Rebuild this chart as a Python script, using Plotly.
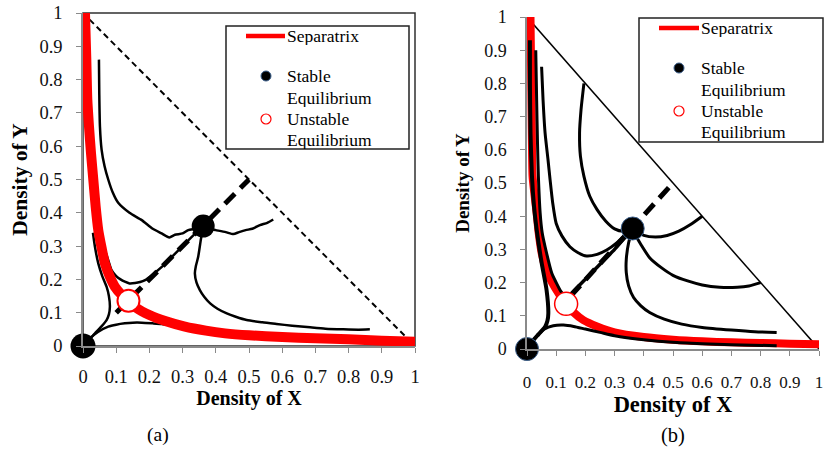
import plotly.graph_objects as go

W, H = 825, 451

# ---------------- data ----------------
tick_vals = [0, 0.1, 0.2, 0.3, 0.4, 0.5, 0.6, 0.7, 0.8, 0.9, 1.0]
tick_text = ["0", "0.1", "0.2", "0.3", "0.4", "0.5", "0.6", "0.7", "0.8", "0.9", "1"]

# Panel (a)
sep_a_x = [0.006, 0.01, 0.013, 0.018, 0.024, 0.031, 0.038, 0.046, 0.056, 0.066, 0.08, 0.096,
           0.115, 0.137, 0.16, 0.2, 0.25, 0.307, 0.37, 0.428, 0.5, 0.6, 0.7, 0.8, 0.9, 1.0]
sep_a_y = [1.0, 0.86, 0.74, 0.66, 0.58, 0.5, 0.42, 0.348, 0.295, 0.248, 0.21, 0.178,
           0.155, 0.136, 0.115, 0.093, 0.074, 0.058, 0.046, 0.038, 0.032, 0.027, 0.023, 0.02, 0.016, 0.013]

a_t1_x = [0.048, 0.049, 0.051, 0.056, 0.065, 0.076, 0.09, 0.106, 0.14, 0.177, 0.21, 0.237, 0.26,
          0.277, 0.3, 0.317, 0.34, 0.362]
a_t1_y = [0.86, 0.76, 0.66, 0.59, 0.54, 0.50, 0.46, 0.43, 0.40, 0.378, 0.352, 0.338, 0.326,
          0.334, 0.338, 0.348, 0.352, 0.36]

a_t2_x = [0.362, 0.38, 0.4, 0.43, 0.453, 0.47, 0.49, 0.51, 0.533, 0.555, 0.573]
a_t2_y = [0.36, 0.352, 0.348, 0.342, 0.336, 0.342, 0.348, 0.352, 0.363, 0.37, 0.38]

a_t3_x = [0.362, 0.355, 0.347, 0.34, 0.337, 0.342, 0.352, 0.365, 0.383, 0.405, 0.433, 0.46,
          0.493, 0.54, 0.583, 0.63, 0.684, 0.73, 0.784, 0.83, 0.864]
a_t3_y = [0.36, 0.32, 0.268, 0.24, 0.218, 0.19, 0.168, 0.148, 0.128, 0.112, 0.098, 0.088,
          0.078, 0.071, 0.066, 0.061, 0.056, 0.052, 0.05, 0.049, 0.05]

a_t4_x = [0.048, 0.052, 0.058, 0.066, 0.076, 0.086, 0.1, 0.113, 0.126, 0.14, 0.157, 0.172,
          0.187, 0.21, 0.24, 0.27, 0.3, 0.33, 0.362]
a_t4_y = [0.36, 0.335, 0.31, 0.288, 0.258, 0.228, 0.21, 0.2, 0.193, 0.188, 0.189, 0.192,
          0.198, 0.215, 0.24, 0.27, 0.3, 0.33, 0.36]

a_t5_x = [0.03, 0.036, 0.046, 0.058, 0.071, 0.078, 0.081, 0.078, 0.071, 0.055, 0.036, 0.018, 0.0]
a_t5_y = [0.34, 0.298, 0.248, 0.21, 0.178, 0.15, 0.118, 0.095, 0.078, 0.058, 0.038, 0.018, 0.0]

a_t6_x = [0.0, 0.02, 0.045, 0.076, 0.1, 0.126, 0.15, 0.177, 0.21, 0.237, 0.27, 0.3, 0.33]
a_t6_y = [0.0, 0.022, 0.042, 0.058, 0.064, 0.068, 0.07, 0.07, 0.068, 0.066, 0.062, 0.058, 0.054]

diag_a_x = [0.02, 0.975]
diag_a_y = [0.98, 0.025]
ridge_a_x = [0.1, 0.5]
ridge_a_y = [0.1, 0.5]

stable_a_x = [0.0, 0.362]
stable_a_y = [0.0, 0.36]
unstable_a_x = [0.137]
unstable_a_y = [0.136]

# Panel (b)
sep_b_x = [0.012, 0.014, 0.016, 0.019, 0.025, 0.033, 0.04, 0.05, 0.065, 0.086, 0.11, 0.134,
           0.16, 0.193, 0.24, 0.3, 0.4, 0.5, 0.6, 0.7, 0.8, 0.9, 1.0]
sep_b_y = [1.0, 0.85, 0.7, 0.52, 0.47, 0.41, 0.35, 0.29, 0.24, 0.2, 0.165, 0.136,
           0.11, 0.087, 0.068, 0.05, 0.036, 0.028, 0.023, 0.02, 0.018, 0.016, 0.014]

b_A_x = [0.01, 0.01, 0.012, 0.017, 0.024, 0.033, 0.05, 0.067, 0.073, 0.07, 0.062, 0.04, 0.022, 0.0]
b_A_y = [0.93, 0.8, 0.65, 0.52, 0.43, 0.36, 0.26, 0.178, 0.107, 0.085, 0.067, 0.045, 0.027, 0.0]

b_B_x = [0.03, 0.033, 0.036, 0.039, 0.045, 0.052, 0.062, 0.085, 0.1, 0.113, 0.125]
b_B_y = [0.90, 0.75, 0.62, 0.52, 0.41, 0.35, 0.308, 0.228, 0.2, 0.178, 0.162]

b_C_x = [0.05, 0.055, 0.062, 0.072, 0.079, 0.088, 0.1, 0.12, 0.147, 0.175, 0.204, 0.24,
         0.273, 0.305, 0.33, 0.362]
b_C_y = [0.85, 0.75, 0.65, 0.57, 0.51, 0.44, 0.378, 0.34, 0.308, 0.29, 0.28, 0.285,
         0.298, 0.318, 0.339, 0.363]

b_D_x = [0.195, 0.185, 0.18, 0.183, 0.195, 0.215, 0.24, 0.27, 0.3, 0.33, 0.362]
b_D_y = [0.80, 0.72, 0.65, 0.58, 0.52, 0.46, 0.42, 0.385, 0.362, 0.355, 0.363]

b_E_x = [0.6, 0.56, 0.52, 0.48, 0.44, 0.4, 0.362]
b_E_y = [0.4, 0.375, 0.355, 0.342, 0.337, 0.342, 0.363]

b_F_x = [0.8, 0.76, 0.72, 0.66, 0.6, 0.55, 0.5, 0.46, 0.42, 0.39, 0.37, 0.362]
b_F_y = [0.2, 0.19, 0.186, 0.186, 0.193, 0.205, 0.222, 0.245, 0.275, 0.315, 0.345, 0.363]

b_G_x = [0.362, 0.348, 0.34, 0.34, 0.348, 0.365, 0.39, 0.42, 0.47, 0.53, 0.6, 0.7, 0.78, 0.855]
b_G_y = [0.363, 0.32, 0.27, 0.23, 0.19, 0.155, 0.13, 0.11, 0.09, 0.075, 0.065, 0.057, 0.052, 0.05]

b_H_x = [0.0, 0.03, 0.06, 0.09, 0.125, 0.16, 0.2, 0.25, 0.3, 0.4, 0.5, 0.6, 0.7, 0.855]
b_H_y = [0.0, 0.035, 0.06, 0.07, 0.072, 0.068, 0.06, 0.05, 0.04, 0.028, 0.02, 0.016, 0.013, 0.01]

b_U_x = [0.134, 0.15, 0.2, 0.25, 0.3, 0.362]
b_U_y = [0.136, 0.165, 0.21, 0.255, 0.3, 0.363]

diag_b_x = [0.0, 1.0]
diag_b_y = [1.0, 0.0]
ridge_b_x = [0.15, 0.5]
ridge_b_y = [0.16, 0.5]

stable_b_x = [0.0, 0.362]
stable_b_y = [0.0, 0.363]
unstable_b_x = [0.134]
unstable_b_y = [0.136]

legend_labels = ["Separatrix", "Stable", "Equilibrium", "Unstable", "Equilibrium"]
axis_x_title = "Density of X"
axis_y_title = "Density of Y"
panel_labels = ["(a)", "(b)"]

# ---------------- figure ----------------
fig = go.Figure()
RED = "#ff0000"
SERIF = "Liberation Serif"


def line(x, y, xa, ya, width, color="black", dash="solid"):
    fig.add_trace(go.Scatter(x=x, y=y, xaxis=xa, yaxis=ya, mode="lines",
                             line=dict(color=color, width=width, dash=dash, shape="spline",
                                       smoothing=0.6),
                             cliponaxis=False, showlegend=False, hoverinfo="skip"))


def points(x, y, xa, ya, size, fill, edge, edge_w):
    fig.add_trace(go.Scatter(x=x, y=y, xaxis=xa, yaxis=ya, mode="markers",
                             marker=dict(color=fill, size=size, opacity=1,
                                         line=dict(color=edge, width=edge_w)),
                             cliponaxis=False, showlegend=False, hoverinfo="skip"))


# panel a
line(diag_a_x, diag_a_y, "x", "y", 2, dash="6px,4px")
for tx, ty in [(a_t1_x, a_t1_y), (a_t2_x, a_t2_y), (a_t3_x, a_t3_y),
               (a_t4_x, a_t4_y), (a_t5_x, a_t5_y), (a_t6_x, a_t6_y)]:
    line(tx, ty, "x", "y", 2.5)
line(ridge_a_x, ridge_a_y, "x", "y", 5, dash="14px,8px")
line(sep_a_x, sep_a_y, "x", "y", 10, color=RED)
points(stable_a_x, stable_a_y, "x", "y", [25, 23], "black", "black", 0)
points(unstable_a_x, unstable_a_y, "x", "y", 22, "white", RED, 2)

# panel b
line(diag_b_x, diag_b_y, "x2", "y2", 1.5)
line(sep_b_x, sep_b_y, "x2", "y2", 8, color=RED)
line(b_A_x, b_A_y, "x2", "y2", 4)
for tx, ty in [(b_B_x, b_B_y), (b_C_x, b_C_y), (b_D_x, b_D_y), (b_E_x, b_E_y),
               (b_F_x, b_F_y), (b_G_x, b_G_y), (b_H_x, b_H_y)]:
    line(tx, ty, "x2", "y2", 3)
line(b_U_x, b_U_y, "x2", "y2", 3.5)
line(ridge_b_x, ridge_b_y, "x2", "y2", 5, dash="14px,8px")
points(stable_b_x, stable_b_y, "x2", "y2", 23, "black", "#3b5f8c", 1)
points(unstable_b_x, unstable_b_y, "x2", "y2", 23, "white", RED, 1.5)


def px_x(p):
    return p / W


def px_y(p):
    return 1 - p / H


shapes = []
annotations = []

# frame around panel (a)
shapes.append(dict(type="rect", xref="x domain", yref="y domain", x0=0, x1=1, y0=0, y1=1,
                   line=dict(color="#303030", width=1.5), layer="below"))

# legends (manual, one per panel): box, red line, two circle glyphs, labels
for (bx0, by0, bx1, by1, lx0, lx1, mx, tx, ys) in [
        (226, 26, 409, 149, 246, 285, 266, 286, [36, 76, 98, 119, 140]),
        (639, 18, 823, 142, 659, 699, 679, 700, [28, 68, 90, 111, 132])]:
    shapes.append(dict(type="rect", xref="paper", yref="paper",
                       x0=px_x(bx0), x1=px_x(bx1), y0=px_y(by1), y1=px_y(by0),
                       line=dict(color="#222", width=1.5), fillcolor="white"))
    shapes.append(dict(type="line", xref="paper", yref="paper",
                       x0=px_x(lx0), x1=px_x(lx1), y0=px_y(ys[0]), y1=px_y(ys[0]),
                       line=dict(color=RED, width=4.5)))
    r = 5
    shapes.append(dict(type="circle", xref="paper", yref="paper",
                       x0=px_x(mx - r), x1=px_x(mx + r), y0=px_y(ys[1] + r), y1=px_y(ys[1] - r),
                       fillcolor="black", line=dict(color="#3b5f8c", width=1)))
    shapes.append(dict(type="circle", xref="paper", yref="paper",
                       x0=px_x(mx - r), x1=px_x(mx + r), y0=px_y(ys[3] + r), y1=px_y(ys[3] - r),
                       fillcolor="white", line=dict(color=RED, width=1.2)))
    for lab, yy in zip(legend_labels, ys):
        annotations.append(dict(text=lab, xref="paper", yref="paper", x=px_x(tx), y=px_y(yy),
                                xanchor="left", yanchor="middle", showarrow=False, borderpad=0,
                                height=18,
                                font=dict(family=SERIF, size=17.5, color="black")))

# panel labels
annotations.append(dict(text=panel_labels[0], xref="paper", yref="paper", x=px_x(158), y=px_y(435),
                        xanchor="center", yanchor="middle", showarrow=False,
                        font=dict(family=SERIF, size=19.5, color="black")))
annotations.append(dict(text=panel_labels[1], xref="paper", yref="paper", x=px_x(673), y=px_y(435),
                        xanchor="center", yanchor="middle", showarrow=False,
                        font=dict(family=SERIF, size=20.5, color="black")))


def xaxis(domain, anchor, tsize, title_size, standoff, lab_off):
    return dict(domain=domain, anchor=anchor, range=[0, 1], showgrid=False, zeroline=False,
                showline=True, linecolor="#8a8a8a", linewidth=1.5, ticks="outside", ticklen=5,
                tickcolor="#8a8a8a", tickwidth=1, tickvals=tick_vals, ticktext=tick_text,
                tickfont=dict(family=SERIF, size=tsize, color="#111"),
                ticklabelstandoff=lab_off, automargin=False, fixedrange=True,
                title=dict(text="<b>" + axis_x_title + "</b>", standoff=standoff,
                           font=dict(family=SERIF, size=title_size, color="black")))


def yaxis(domain, anchor, tsize, title_size, standoff, lab_off):
    return dict(domain=domain, anchor=anchor, range=[0, 1], showgrid=False, zeroline=False,
                showline=True, linecolor="#8a8a8a", linewidth=1.5, ticks="outside", ticklen=5,
                tickcolor="#8a8a8a", tickwidth=1, tickvals=tick_vals, ticktext=tick_text,
                tickfont=dict(family=SERIF, size=tsize, color="#111"),
                ticklabelstandoff=lab_off, automargin=False, fixedrange=True,
                title=dict(text="<b>" + axis_y_title + "</b>", standoff=standoff,
                           font=dict(family=SERIF, size=title_size, color="black")))


fig.update_layout(
    width=W, height=H, margin=dict(l=0, r=0, t=0, b=0),
    paper_bgcolor="white", plot_bgcolor="white", showlegend=False,
    xaxis=xaxis([83 / W, 415 / W], "y", 18.5, 20, 4, 8),
    yaxis=yaxis([1 - 346 / H, 1 - 13 / H], "x", 18.5, 21.5, 6, 10),
    xaxis2=xaxis([527 / W, 819 / W], "y2", 17, 22.5, 0, 12),
    yaxis2=yaxis([1 - 349 / H, 1 - 17 / H], "x2", 18, 19, 10, 10),
    shapes=shapes, annotations=annotations,
)

fig.write_html("out.html")
